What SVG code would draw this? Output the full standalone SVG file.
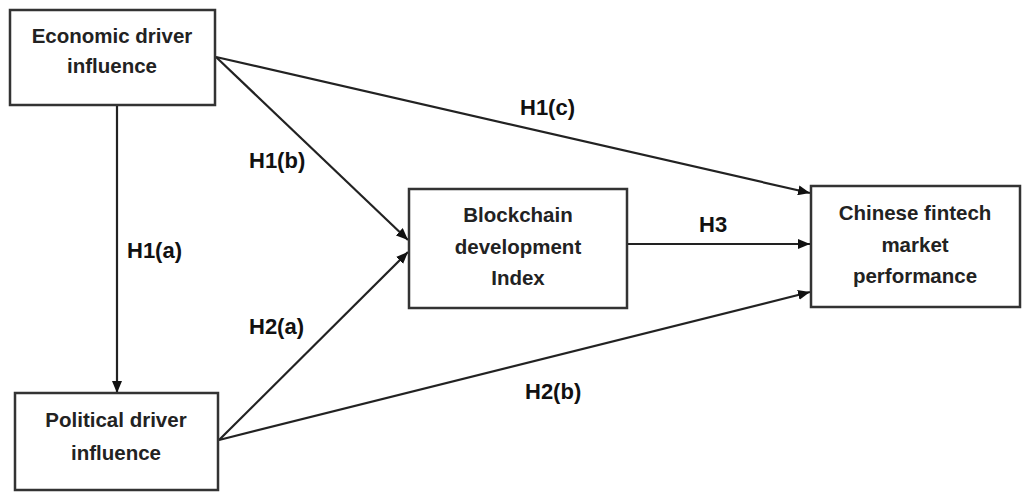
<svg xmlns="http://www.w3.org/2000/svg" width="1022" height="492" viewBox="0 0 1022 492">
<style>
.box{fill:#fff;stroke:#333;stroke-width:2.5}
.nt{font-family:"Liberation Sans",Arial,sans-serif;font-weight:bold;font-size:20.5px;fill:#222;text-anchor:middle}
.lb{font-family:"Liberation Sans",Arial,sans-serif;font-weight:bold;font-size:22px;fill:#111}
.ed{stroke:#222;stroke-width:2.2;fill:none;marker-end:url(#ah)}
</style>
<defs>
<marker id="ah" viewBox="0 0 12 10" refX="12" refY="5" markerWidth="12" markerHeight="10" markerUnits="userSpaceOnUse" orient="auto">
<path d="M0,0 L12,5 L0,10 Z" fill="#111"/>
</marker>
</defs>
<rect width="1022" height="492" fill="#fff"/>
<g id="connectors">
<line class="ed" x1="117" y1="105" x2="117" y2="393"/>
<line class="ed" x1="216" y1="57" x2="408" y2="240"/>
<line class="ed" x1="216" y1="57" x2="810" y2="193"/>
<line class="ed" x1="219" y1="440" x2="408" y2="252"/>
<line class="ed" x1="219" y1="440" x2="810" y2="292"/>
<line class="ed" x1="628" y1="244" x2="810" y2="244"/>
<text class="lb" x="520" y="115">H1(c)</text>
<text class="lb" x="249" y="168">H1(b)</text>
<text class="lb" x="127" y="258">H1(a)</text>
<text class="lb" x="249" y="334">H2(a)</text>
<text class="lb" x="699" y="232">H3</text>
<text class="lb" x="525" y="399">H2(b)</text>
</g>
<g id="economic">
<rect class="box" x="10" y="10" width="205" height="95"/>
<text class="nt" x="112" y="43">Economic driver</text>
<text class="nt" x="112" y="73">influence</text>
</g>
<g id="political">
<rect class="box" x="15" y="393" width="203" height="97"/>
<text class="nt" x="116" y="427">Political driver</text>
<text class="nt" x="116" y="460">influence</text>
</g>
<g id="blockchain">
<rect class="box" x="409" y="189" width="218" height="119"/>
<text class="nt" x="518" y="222">Blockchain</text>
<text class="nt" x="518" y="254">development</text>
<text class="nt" x="518" y="285">Index</text>
</g>
<g id="chinese">
<rect class="box" x="811" y="186" width="209" height="121"/>
<text class="nt" x="915" y="220">Chinese fintech</text>
<text class="nt" x="915" y="252">market</text>
<text class="nt" x="915" y="283">performance</text>
</g>
</svg>
